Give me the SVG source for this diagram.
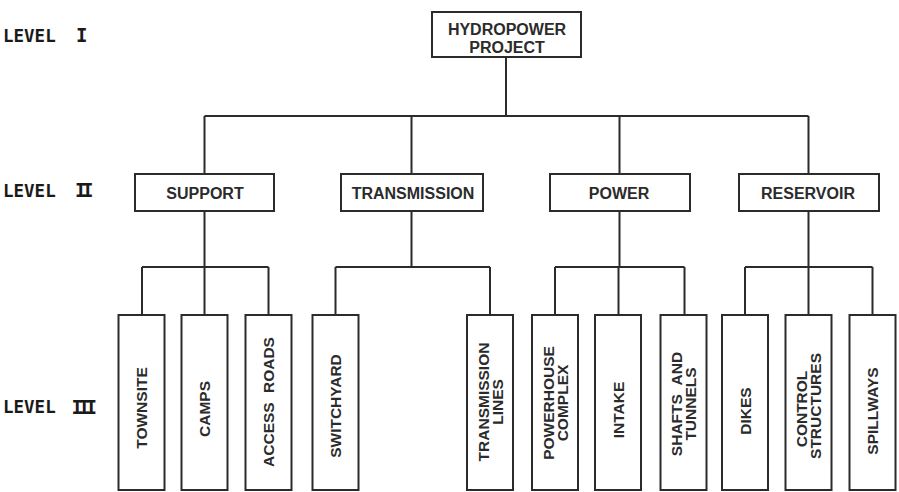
<svg xmlns="http://www.w3.org/2000/svg" width="899" height="492" viewBox="0 0 899 492">
  <style>
    .box { fill: #ffffff; stroke: #2b2b2b; stroke-width: 2; }
    .wire { fill: none; stroke: #2b2b2b; stroke-width: 2; }
    .lbl { font-family: "Liberation Sans", Arial, sans-serif; font-weight: bold; fill: #2b2b2b; text-anchor: middle; }
    .l1 { font-size: 16px; }
    .l2 { font-size: 16px; }
    .l3 { font-size: 15.5px; }
    .lev { font-family: "DejaVu Sans Mono", monospace; font-weight: bold; font-size: 17.5px; fill: #1a1a1a; }
    .num { font-family: "DejaVu Sans Mono", monospace; font-weight: bold; font-size: 19px; fill: #1a1a1a; letter-spacing: -4.5px; }
  </style>
  <rect width="899" height="492" fill="#ffffff"/>

  <!-- level captions -->
  <g id="level-captions">
    <text class="lev" x="3" y="41.5">LEVEL</text><text class="num" x="76" y="42">I</text>
    <text class="lev" x="3" y="196.5">LEVEL</text><text class="num" x="75" y="197">II</text>
    <text class="lev" x="3" y="413">LEVEL</text><text class="num" x="71.5" y="413.5">III</text>
  </g>

  <!-- connectors -->
  <g id="connectors" class="wire">
    <path d="M506 57V116M204.5 116H808.5M204.5 116V174M411.5 116V174M619.5 116V174M808.5 116V174"/>
    <path d="M204.5 211V267M142 267H268.5M142 267V315M204.5 267V315M268.5 267V315"/>
    <path d="M411.5 211V267M335.5 267H490M335.5 267V315M490 267V315"/>
    <path d="M619.5 211V267M555 267H684.5M555 267V315M618.5 267V315M684.5 267V315"/>
    <path d="M808.5 211V267M745 267H872.5M745 267V315M808.5 267V315M872.5 267V315"/>
  </g>

  <!-- level I -->
  <g id="hydropower-project">
    <rect class="box" x="432" y="12" width="149" height="45"/>
    <text class="lbl l1" x="507" y="34.5">HYDROPOWER</text>
    <text class="lbl l1" x="507" y="53">PROJECT</text>
  </g>

  <!-- level II -->
  <g id="support">
    <rect class="box" x="135" y="174" width="139" height="37"/>
    <text class="lbl l2" x="205" y="199">SUPPORT</text>
  </g>
  <g id="transmission">
    <rect class="box" x="341" y="174" width="142" height="37"/>
    <text class="lbl l2" x="413" y="199">TRANSMISSION</text>
  </g>
  <g id="power">
    <rect class="box" x="550" y="174" width="140" height="37"/>
    <text class="lbl l2" x="619" y="199">POWER</text>
  </g>
  <g id="reservoir">
    <rect class="box" x="739" y="174" width="140" height="37"/>
    <text class="lbl l2" x="808" y="199">RESERVOIR</text>
  </g>

  <!-- level III -->
  <g id="townsite">
    <rect class="box" x="118.5" y="315" width="46" height="175"/>
    <text class="lbl l3" transform="translate(141.5 408) rotate(-90)" y="5.5">TOWNSITE</text>
  </g>
  <g id="camps">
    <rect class="box" x="181.5" y="315" width="46" height="175"/>
    <text class="lbl l3" transform="translate(204.5 409) rotate(-90)" y="5.5">CAMPS</text>
  </g>
  <g id="access-roads">
    <rect class="box" x="245.5" y="315" width="46" height="175"/>
    <text class="lbl l3" transform="translate(268.5 402) rotate(-90)" y="5.5" word-spacing="5">ACCESS ROADS</text>
  </g>
  <g id="switchyard">
    <rect class="box" x="312.5" y="315" width="46" height="175"/>
    <text class="lbl l3" transform="translate(335.5 406) rotate(-90)" y="5.5">SWITCHYARD</text>
  </g>
  <g id="transmission-lines">
    <rect class="box" x="467" y="315" width="46" height="175"/>
    <text class="lbl l3" transform="translate(490 402) rotate(-90)" y="-1.5">TRANSMISSION</text>
    <text class="lbl l3" transform="translate(490 402) rotate(-90)" y="12.5">LINES</text>
  </g>
  <g id="powerhouse-complex">
    <rect class="box" x="532" y="315" width="46" height="175"/>
    <text class="lbl l3" transform="translate(555 403) rotate(-90)" y="-1.5">POWERHOUSE</text>
    <text class="lbl l3" transform="translate(555 403) rotate(-90)" y="12.5">COMPLEX</text>
  </g>
  <g id="intake">
    <rect class="box" x="595" y="315" width="46" height="175"/>
    <text class="lbl l3" transform="translate(618 410) rotate(-90)" y="5.5">INTAKE</text>
  </g>
  <g id="shafts-and-tunnels">
    <rect class="box" x="660.5" y="315" width="46" height="175"/>
    <text class="lbl l3" transform="translate(683.5 404) rotate(-90)" y="-1.5" word-spacing="5">SHAFTS AND</text>
    <text class="lbl l3" transform="translate(683.5 404) rotate(-90)" y="12.5">TUNNELS</text>
  </g>
  <g id="dikes">
    <rect class="box" x="722" y="315" width="46" height="175"/>
    <text class="lbl l3" transform="translate(745 411) rotate(-90)" y="5.5">DIKES</text>
  </g>
  <g id="control-structures">
    <rect class="box" x="785.5" y="315" width="46" height="175"/>
    <text class="lbl l3" transform="translate(808.5 409) rotate(-90)" y="-1.5">CONTROL</text>
    <text class="lbl l3" transform="translate(808.5 406) rotate(-90)" y="12.5">STRUCTURES</text>
  </g>
  <g id="spillways">
    <rect class="box" x="849.5" y="315" width="46" height="175"/>
    <text class="lbl l3" transform="translate(872.5 411) rotate(-90)" y="5.5">SPILLWAYS</text>
  </g>
</svg>
